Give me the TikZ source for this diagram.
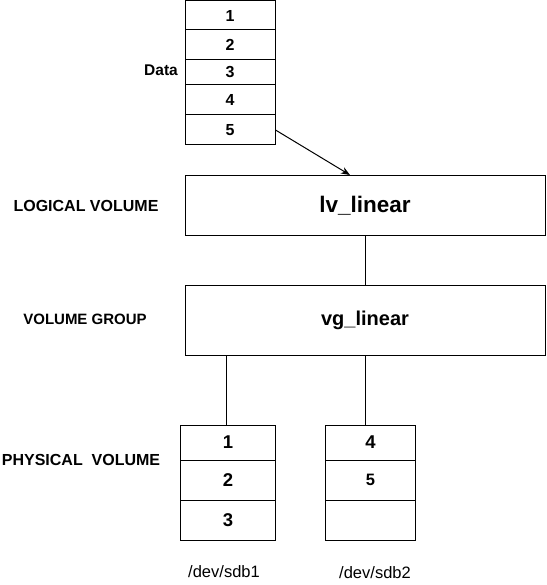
\documentclass[tikz,border=0pt]{standalone}
\usepackage{fontspec}
\setmainfont{Liberation Sans}
\usetikzlibrary{arrows.meta}
\newcommand{\fs}[1]{\fontsize{#1}{#1}\selectfont}
\begin{document}
\begin{tikzpicture}[x=1pt,y=-1pt,
  cell/.style={draw, line width=1pt, inner sep=0pt, font=\bfseries\fs{16}},
  dcell/.style={cell, minimum width=90pt},
  pcell/.style={cell, font=\bfseries\fs{18.5}},
  bigbox/.style={draw, line width=1pt, inner sep=0pt, minimum width=360pt},
  side/.style={font=\bfseries\fs{15.5}, inner sep=0pt},
  dev/.style={font=\fs{16.5}, inner sep=0pt},
  conn/.style={line width=1pt}
]
\useasboundingbox (0,0) rectangle (546,585);
% Data stack
\node[dcell, minimum height=29pt] (d1) at (230,15.5) {1};
\node[dcell, minimum height=30pt] (d2) at (230,45) {2};
\node[dcell, minimum height=25pt] (d3) at (230,72.5) {3};
\node[dcell, minimum height=30pt] (d4) at (230,100) {4};
\node[dcell, minimum height=30pt] (d5) at (230,130) {5};
\node[side, font=\bfseries\fs{15.5}] (data) at (161,70) {Data};
% LV and VG
\node[bigbox, minimum height=60pt, font=\bfseries\fs{22.5}] (lv) at (365,205.5) {lv\_linear};
\node[bigbox, minimum height=70pt, font=\bfseries\fs{20}] (vg) at (365,320) {vg\_linear};
% PV1
\node[pcell, minimum width=95pt, minimum height=35pt] (p1a) at (228,442.5) {1};
\node[pcell, minimum width=95pt, minimum height=40pt] (p1b) at (228,480) {2};
\node[pcell, minimum width=95pt, minimum height=40pt] (p1c) at (228,520) {3};
% PV2
\node[pcell, minimum width=90pt, minimum height=35pt] (p2a) at (370.5,442.5) {4};
\node[pcell, minimum width=90pt, minimum height=40pt, font=\bfseries\fs{16.5}] (p2b) at (370.5,480) {5};
\node[pcell, minimum width=90pt, minimum height=40pt] (p2c) at (370.5,520) {};
% side labels
\node[side, font=\bfseries\fs{16}] (llv) at (86,206) {LOGICAL VOLUME};
\node[side, font=\bfseries\fs{15}] (lvg) at (85,319) {VOLUME GROUP};
\node[side, font=\bfseries\fs{16}] (lpv) at (81,460) {PHYSICAL\ \ VOLUME};
% device labels
\node[dev] (s1) at (224,572) {/dev/sdb1};
\node[dev] (s2) at (375,573) {/dev/sdb2};
% connectors
\coordinate (ain) at (350,175);
\draw[conn, -{Stealth[length=9pt,width=7pt]}] (d5.east) -- (ain);
\draw[conn] (lv.south) -- (vg.north);
\coordinate (v1) at (226,355);
\draw[conn] (v1) -- (p1a.north -| v1);
\draw[conn] (vg.south) -- (p2a.north -| vg.south);
\end{tikzpicture}
\end{document}
